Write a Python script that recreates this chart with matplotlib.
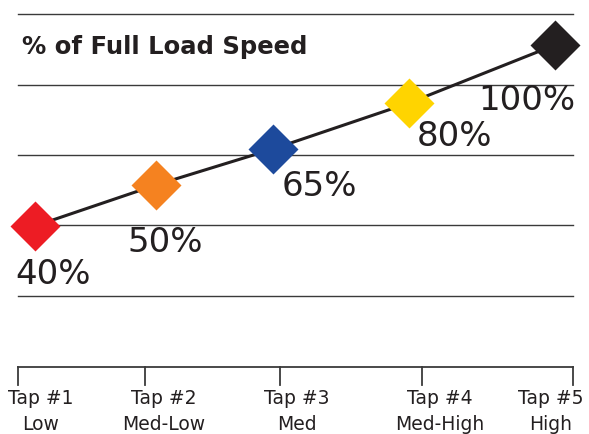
import matplotlib
matplotlib.use("Agg")
import matplotlib.pyplot as plt

# Data
taps = ["Tap #1\nLow", "Tap #2\nMed-Low", "Tap #3\nMed", "Tap #4\nMed-High", "Tap #5\nHigh"]
speed_pct = [40, 50, 65, 80, 100]
# marker positions as drawn in the illustration (pixel-like units)
marker_x = [35, 156, 273, 409, 555]
marker_y = [226, 185, 149, 103, 45]
colors = ["#ED1C24", "#F58220", "#1D4A9C", "#FFD400", "#231F20"]
tick_x = [18, 145, 280, 422, 573]
tick_label_x = [41, 164, 297, 440, 551]
grid_y = [14, 85, 155, 225, 296]
pct_label_x = [15, 127, 282, 417, 478]
pct_label_y = [275, 242, 187, 137, 101]

W, H = 589, 434
fig = plt.figure(figsize=(W / 100, H / 100), dpi=100)
ax = fig.add_axes([0, 0, 1, 1])
ax.set_xlim(0, W)
ax.set_ylim(H, 0)
ax.axis("off")

gc = "#3a3a3a"
for gy in grid_y:
    ax.plot([18, 573], [gy, gy], color=gc, lw=1.0, zorder=1)

# x axis
axis_y = 367
ax.plot([tick_x[0], tick_x[-1]], [axis_y, axis_y], color=gc, lw=1.3, zorder=1)
for tx in tick_x:
    ax.plot([tx, tx], [axis_y, 385], color=gc, lw=1.3, zorder=1)

for lx, lab in zip(tick_label_x, taps):
    ax.text(lx, 389, lab, ha="center", va="top", fontsize=13.5,
            color="#231F20", linespacing=1.45, family="DejaVu Sans")

ax.plot(marker_x, marker_y, color="#231F20", lw=2.2, zorder=2)
for x, y, c in zip(marker_x, marker_y, colors):
    ax.plot([x], [y], marker=(4, 0, 0), markersize=36, color=c,
            markeredgewidth=0, zorder=3)

for x, y, v in zip(pct_label_x, pct_label_y, speed_pct):
    ax.text(x, y, f"{v}%", ha="left", va="center", fontsize=24.5,
            color="#231F20", family="DejaVu Sans")

ax.text(22, 47, "% of Full Load Speed", ha="left", va="center", fontsize=17.5,
        fontweight="bold", color="#231F20", family="DejaVu Sans")

fig.savefig("out.png", dpi=100)
